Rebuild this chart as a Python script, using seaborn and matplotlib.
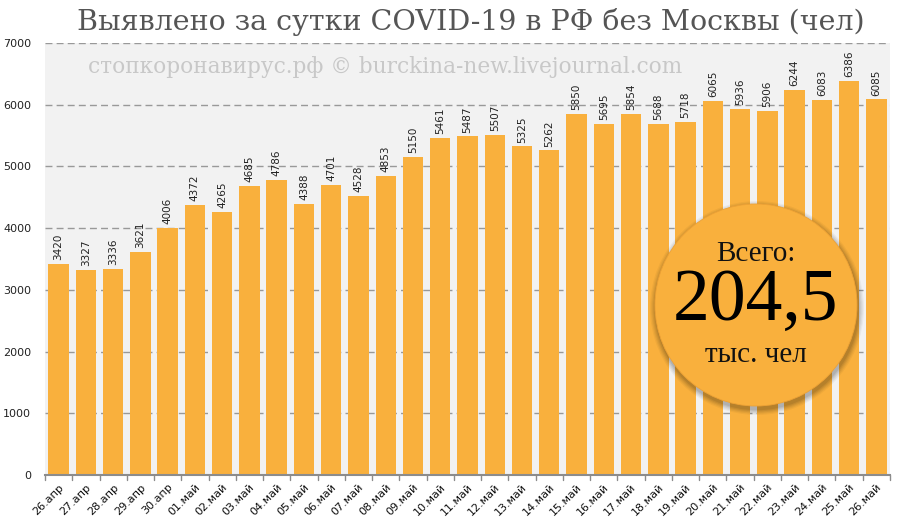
import matplotlib
matplotlib.use("Agg")
import matplotlib.pyplot as plt
import seaborn as sns
import pandas as pd
from matplotlib.patches import Ellipse

dates = ["26.апр", "27.апр", "28.апр", "29.апр", "30.апр",
         "01.май", "02.май", "03.май", "04.май", "05.май", "06.май", "07.май",
         "08.май", "09.май", "10.май", "11.май", "12.май", "13.май", "14.май",
         "15.май", "16.май", "17.май", "18.май", "19.май", "20.май", "21.май",
         "22.май", "23.май", "24.май", "25.май", "26.май"]
values = [3420, 3327, 3336, 3621, 4006, 4372, 4265, 4685, 4786, 4388, 4701,
          4528, 4853, 5150, 5461, 5487, 5507, 5325, 5262, 5850, 5695, 5854,
          5688, 5718, 6065, 5936, 5906, 6244, 6083, 6386, 6085]
yticks = [0, 1000, 2000, 3000, 4000, 5000, 6000, 7000]

title = "Выявлено за сутки COVID-19 в РФ без Москвы (чел)"
watermark = "стопкоронавирус.рф © burckina-new.livejournal.com"
total_lines = ["Всего:", "204,5", "тыс. чел"]

df = pd.DataFrame({"date": dates, "value": values})

sns.set_theme(style="white")
plt.rcParams['font.family'] = ['DejaVu Sans']

W, H = 900, 528
fig = plt.figure(figsize=(9, 5.28), dpi=100)
fig.patch.set_facecolor("white")
ax = fig.add_axes([45 / W, 1 - 475 / H, 845 / W, 432 / H])
ax.set_facecolor("#f2f2f2")

bar_color = "#f9b03d"
sns.barplot(data=df, x="date", y="value", color=bar_color, width=0.75,
            saturation=1, linewidth=0, ax=ax)
for p in ax.patches:
    p.set_zorder(3)

ax.set_ylim(0, 7000)
ax.set_xlim(-0.5, len(dates) - 0.5)
ax.set_yticks(yticks)
ax.set_yticklabels([str(t) for t in yticks], fontsize=8, color="#222222")
ax.tick_params(axis="y", length=0, pad=10)
for t in yticks[1:]:
    ax.axhline(t, color="#999999", lw=1, ls=(0, (5, 3)), zorder=1)
ax.set_xlabel("")
ax.set_ylabel("")

ax.set_xticks(range(len(dates)))
ax.set_xticklabels(dates, rotation=45, ha="right", rotation_mode="anchor",
                   fontsize=8, color="#111111")
ax.tick_params(axis="x", length=0, pad=5)
for i in range(len(dates) + 1):
    ax.plot([i - 0.5, i - 0.5], [0, -0.012], transform=ax.get_xaxis_transform(),
            color="#8c8c8c", lw=1, clip_on=False, zorder=4)

for s in ["top", "right", "left"]:
    ax.spines[s].set_visible(False)
ax.spines["bottom"].set_color("#8c8c8c")
ax.spines["bottom"].set_linewidth(1.5)
ax.spines["bottom"].set_zorder(5)

for i, v in enumerate(values):
    ax.text(i, v + 60, str(v), rotation=90, ha="center", va="bottom",
            fontsize=7.5, color="#222222", zorder=6)

fig.text(471 / W, 1 - 22 / H, title, ha="center", va="center",
         fontsize=20.5, color="#555555", family="DejaVu Serif")
fig.text(385 / W, 1 - 67 / H, watermark, ha="center", va="center",
         fontsize=15.6, color="#c8c8c8", family="DejaVu Serif", zorder=2)

# total circle with soft shadow
cx, cy, r = 756, 305, 101
for k, a in enumerate([0.04, 0.05, 0.06, 0.07, 0.08]):
    rr = r + 6 - k * 1.2
    fig.add_artist(Ellipse(((cx + 1) / W, 1 - (cy + 3) / H), 2 * rr / W, 2 * rr / H,
                           transform=fig.transFigure, color="black", alpha=a,
                           lw=0, zorder=7))
fig.add_artist(Ellipse((cx / W, 1 - cy / H), 2 * r / W, 2 * r / H,
                       transform=fig.transFigure, facecolor=bar_color,
                       edgecolor="#eea235", lw=0.6, zorder=8))
fig.text(cx / W, 1 - 254 / H, total_lines[0], ha="center", va="center",
         fontsize=21, color="#111111", family="Liberation Serif", zorder=9)
fig.text(cx / W, 1 - 302 / H, total_lines[1], ha="center", va="center",
         fontsize=53, color="#000000", family="Liberation Serif", zorder=9)
fig.text(cx / W, 1 - 355 / H, total_lines[2], ha="center", va="center",
         fontsize=21, color="#111111", family="Liberation Serif", zorder=9)

fig.savefig("out.png", dpi=100, facecolor="white")
